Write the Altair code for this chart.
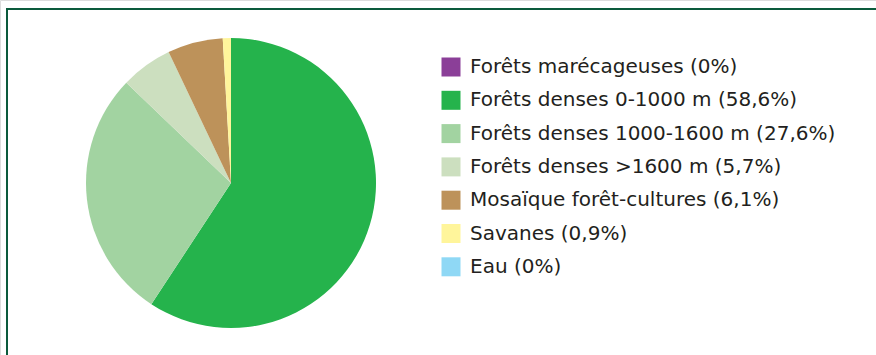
import altair as alt
import pandas as pd

# Land cover classes and their shares (%)
categories = [
    "Forêts marécageuses",
    "Forêts denses 0-1000 m",
    "Forêts denses 1000-1600 m",
    "Forêts denses >1600 m",
    "Mosaïque forêt-cultures",
    "Savanes",
    "Eau",
]
shares = [0, 58.6, 27.6, 5.7, 6.1, 0.9, 0]
colors = ["#8B3F98", "#25B34C", "#A2D3A1", "#CCDFBF", "#BD925A", "#FFF59B", "#8FD8F5"]


def pct(v):
    return "0%" if v == 0 else f"{v:.1f}".replace(".", ",") + "%"


labels = [f"{c} ({pct(v)})" for c, v in zip(categories, shares)]
df = pd.DataFrame({"label": labels, "share": shares, "rank": list(range(len(labels)))})

FONT = "DejaVu Sans"
FRAME = "#0B5A3C"

pie = alt.Chart(df).mark_arc(radius=145).encode(
    theta=alt.Theta("share:Q", stack=True),
    color=alt.Color(
        "label:N",
        scale=alt.Scale(domain=labels, range=colors),
        legend=alt.Legend(
            title=None,
            orient="none",
            legendX=441,
            legendY=57,
            symbolType="square",
            symbolSize=361,
            symbolStrokeWidth=0,
            symbolOpacity=1,
            labelFont=FONT,
            labelFontSize=20,
            labelColor="#231F20",
            labelOffset=9,
            labelLimit=600,
            rowPadding=13.3,
            padding=0,
        ),
    ),
    order=alt.Order("rank:Q"),
    x=alt.value(231),
    y=alt.value(183),
)

frame_src = pd.DataFrame({"k": [0]})
left_rule = alt.Chart(frame_src).mark_rule(color=FRAME, strokeWidth=2).encode(
    x=alt.value(7), y=alt.value(9), y2=alt.value(355)
)
top_rule = alt.Chart(frame_src).mark_rule(color=FRAME, strokeWidth=2).encode(
    x=alt.value(6), x2=alt.value(876), y=alt.value(9)
)

chart = (
    alt.layer(pie, left_rule, top_rule)
    .properties(width=876, height=355, padding=0, autosize=alt.AutoSizeParams(type="none"))
    .configure_view(stroke=None)
    .configure(background="white")
)

chart.save("out.html", embed_options={"renderer": "svg", "actions": False})
